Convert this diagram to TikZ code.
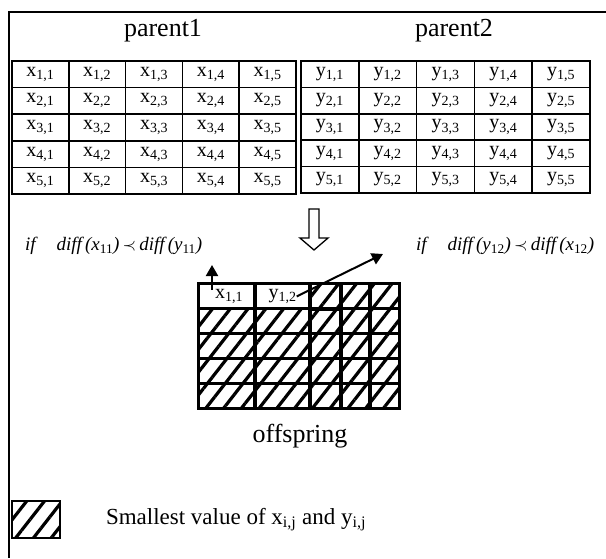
\documentclass[tikz,border=0pt]{standalone}
\usepackage{fontspec}
\setmainfont{Liberation Serif}
\usetikzlibrary{arrows.meta, patterns.meta, positioning}

\begin{document}
\begin{tikzpicture}[
    x=1pt, y=-1pt,
    >={Triangle[width=12pt,length=11pt]},
    every node/.style={inner sep=0pt},
    cell/.style={draw, line width=1.6pt, font=\fontsize{20}{22}\selectfont},
    hatched/.style={pattern={Lines[angle=52,distance=14pt,line width=3.2pt]}},
    title/.style={font=\fontsize{26}{28}\selectfont},
    cond/.style={font=\fontsize{19}{21}\selectfont\itshape, anchor=west},
    link/.style={->, line width=2pt},
]
\useasboundingbox (0,0) rectangle (606,558);
% frame (open on the right and at the bottom)
\draw[line width=1.6pt] (606,12) -- (9,12) -- (9,558);

% the two parents
\node[title] (p1) at (163,31) {parent1};
\node[title] (p2) at (454,31) {parent2};
\foreach \i in {1,...,5} {
  \foreach \j in {1,...,5} {
    \node[cell, minimum width=56.8pt, minimum height=26.6pt] (x\i\j)
      at ({12+28.4+56.8*(\j-1)}, {61+13.3+26.6*(\i-1)}) {x\textsubscript{\i,\j}};
    \node[cell, minimum width=57.8pt, minimum height=26.4pt] (y\i\j)
      at ({301+28.9+57.8*(\j-1)}, {61+13.2+26.4*(\i-1)}) {y\textsubscript{\i,\j}};
  }
}

% hollow arrow down to the offspring
\draw[line width=1.3pt] (309,209) -- (319,209) -- (319,238) -- (328,238)
  -- (314,250) -- (300,238) -- (309,238) -- cycle;

% offspring: hatched cells keep the smaller value
\foreach \i in {1,...,5} {
  \foreach \j/\xl/\xr in {1/199/255, 2/255/310, 3/310/341, 4/341/370, 5/370/399} {
    \pgfmathsetmacro\w{\xr-\xl}
    \pgfmathsetmacro\cx{(\xr+\xl)/2}
    \ifnum\i=1 \ifnum\j<3 \def\look{}\else\def\look{hatched}\fi\else\def\look{hatched}\fi
    \node[cell, \look, minimum width=\w pt, minimum height=24.8pt] (o\i\j)
      at (\cx, {284+12.4+24.8*(\i-1)}) {};
  }
}
% borders again, over the hatching
\foreach \i in {1,...,5} {
  \foreach \j in {1,...,5} {
    \draw[line width=1.6pt] (o\i\j.south west) rectangle (o\i\j.north east);
  }
}
\node[font=\fontsize{20}{22}\selectfont] (t11) at ([xshift=2pt]o11) {x\textsubscript{1,1}};
\node[font=\fontsize{20}{22}\selectfont] (t12) at (o12) {y\textsubscript{1,2}};
\node[title] (off) at (300,436) {offspring};

% the two comparisons
\node[cond] (cx) at (25,246)
  {if\hspace{1.1em}diff\,(x\textsubscript{\upshape 11})\,$\prec$\,diff\,(y\textsubscript{\upshape 11})};
\node[cond] (cy) at (416,246)
  {if\hspace{1.1em}diff\,(y\textsubscript{\upshape 12})\,$\prec$\,diff\,(x\textsubscript{\upshape 12})};
\coordinate (upfoot) at (212,290);
\coordinate (uptip) at (212,265);
\coordinate (rtip) at (383,254);
\draw[link] (upfoot) -- (uptip);
\draw[link] (t12.east) -- (rtip);

% key
\node[draw, line width=1.6pt, hatched, minimum width=48pt, minimum height=37pt] (key) at (36,519.5) {};
\node[right=45pt of key, font=\fontsize{23}{25}\selectfont] (keytext)
  {Smallest value of x\textsubscript{i,j} and y\textsubscript{i,j}};
\end{tikzpicture}
\end{document}
